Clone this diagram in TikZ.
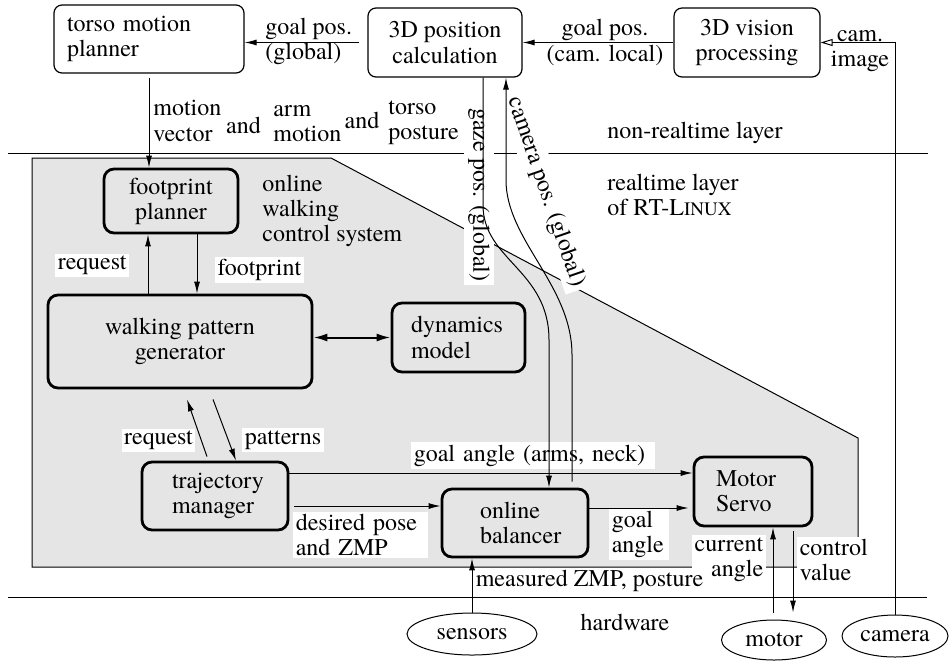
\documentclass[tikz,border=0pt]{standalone}
\usepackage{fontspec}
\setmainfont{TeX Gyre Termes}
\usetikzlibrary{arrows.meta,shapes.geometric}
\definecolor{panel}{RGB}{229,229,229}
\begin{document}
\begin{tikzpicture}[x=0.5pt,y=-0.5pt,
  every node/.style={font=\fontsize{12}{12.6}\selectfont},
  topbox/.style={draw, line width=0.6pt, rounded corners=4pt, inner sep=0pt, align=center},
  inbox/.style={draw, line width=1.4pt, rounded corners=5pt, inner sep=0pt, align=center},
  ell/.style={draw, ellipse, line width=0.5pt, inner sep=0pt},
  lbl/.style={inner sep=1pt, align=left},
  wl/.style={fill=white, inner sep=1.2pt, align=left},
  arr/.style={-{Latex[length=6pt,width=3pt]}, line width=0.5pt},
  darr/.style={{Latex[length=7pt,width=4pt]}-{Latex[length=7pt,width=4pt]}, line width=1pt},
  oarr/.style={-{Triangle[open,length=6pt,width=3.5pt]}, line width=0.5pt}]
\useasboundingbox (0,0) rectangle (951,660);

% grey realtime panel
\filldraw[fill=panel, line width=0.5pt] (32,158) -- (331,158) -- (858,438) -- (858,567) -- (32,567) -- cycle;
% layer separators
\draw[line width=0.5pt] (8,153) -- (928,153);
\draw[line width=0.5pt] (8,597) -- (927,597);

% plain labels
\node[lbl, anchor=west] (lgg) at (263,41.5) {goal pos.\\(global)};
\node[lbl, align=center] (lgc) at (605,42.5) {goal pos.\\(cam. local)};
\node[lbl, align=center] (lci) at (860,51) {cam.\\image};
\node[lbl, anchor=west] (lmv) at (151,121) {motion\\vector};
\node[lbl] (la1) at (243.5,125) {and};
\node[lbl, anchor=west] (lam) at (271,123.5) {arm\\motion};
\node[lbl] (la2) at (362,120) {and};
\node[lbl, anchor=west] (ltp) at (386,122.5) {torso\\posture};
\node[lbl, anchor=west] (lnr) at (605,132.5) {non-realtime layer};
\node[lbl, anchor=west] (lrt) at (605,195) {realtime layer\\of RT-L{\fontsize{9.5}{10}\selectfont INUX}};
\node[lbl, anchor=west] (low) at (260,211) {online\\walking\\control system};
\node[lbl] (lhw) at (625,622) {hardware};

% white-backed labels
\node[wl, anchor=west] (lrq1) at (55,265.5) {request};
\node[wl] (lfp) at (259.5,270) {footprint};
\node[wl] (lrq2) at (158.5,440.5) {request};
\node[wl] (lpt) at (283,440) {patterns};
\node[wl, anchor=west, text width=119.5pt] (lga) at (411,455.5) {goal angle (arms, neck)};
\node[wl, anchor=west, text width=65pt] (ldp) at (293,535) {desired pose\\and ZMP};
\node[wl, anchor=west, text width=27.5pt] (lgb) at (609,534.5) {goal\\angle};
\node[wl, align=right, anchor=east] (lca) at (766,560) {current\\angle};
\node[wl, anchor=west, text width=31pt] (lcv) at (797,560) {control\\value};
\node[wl, anchor=west] (lmz) at (473,581) {measured ZMP, posture};
\node[wl, inner sep=2pt, rotate=-90] (lgz) at (479,195) {gaze pos. (global)};
\node[wl, inner sep=2pt, rotate=-71] (lcp) at (546,192) {camera pos. (global)};

% top boxes
\node[topbox, text width=82pt, align=left, inner xsep=6.5pt, minimum height=34pt] (tmp) at (149,39) {torso motion\\planner};
\node[topbox, minimum width=77pt, minimum height=34.5pt] (pos) at (445,42.5) {3D position\\calculation};
\node[topbox, minimum width=73pt, minimum height=34.5pt] (vis) at (747,42.5) {3D vision\\processing};

% realtime boxes
\node[inbox, minimum width=67pt, minimum height=32pt] (fp) at (171,201) {footprint\\planner};
\node[inbox, minimum width=132pt, minimum height=46.5pt] (wpg) at (180,341.5) {walking pattern\\generator};
\node[inbox, text width=47.5pt, align=left, inner xsep=9.5pt, minimum height=34.5pt] (dyn) at (458.5,337.5) {dynamics\\model};
\node[inbox, text width=43pt, align=left, inner xsep=15pt, minimum height=34pt] (traj) at (215,496) {trajectory\\manager};
\node[inbox, text width=35pt, align=left, inner xsep=19pt, minimum height=34pt] (bal) at (515,523) {online\\balancer};
\node[inbox, text width=37pt, align=left, inner xsep=11pt, minimum height=34.5pt] (ms) at (753,491.5) {Motor\\Servo};

% hardware
\node[ell, minimum width=65pt, minimum height=21pt] (sen) at (472,634) {sensors};
\node[ell, minimum width=52.5pt, minimum height=20pt] (mot) at (774,640) {motor};
\node[ell, minimum width=53pt, minimum height=21pt] (cam) at (895,636) {camera};

% connectors
\draw[arr, shorten <=4pt] (pos.west) -- (pos.west -| tmp.east);
\draw[arr] (vis.west) -- (pos.east);
\draw[oarr] (cam.north) |- (vis.east);
\draw[arr, shorten <=2pt] (tmp.south) -- (tmp.south |- fp.north);
\coordinate (fpR) at ([xshift=13pt]fp.south);
\coordinate (fpL) at ([xshift=-11.5pt]fp.south);
\draw[arr] (fpR) -- (fpR |- wpg.north);
\draw[arr] (fpL |- wpg.north) -- (fpL);
\draw[darr] (dyn.west -| wpg.east) -- (dyn.west);
\draw[arr] ([xshift=-4pt,yshift=2pt]traj.north) -- ([xshift=3.5pt,yshift=-5pt]wpg.south);
\draw[arr] ([xshift=16.5pt,yshift=-5pt]wpg.south) -- ([xshift=10.5pt]traj.north);
\coordinate (gaS) at ([yshift=11.5pt]traj.east);
\draw[arr] (gaS) -- (gaS -| ms.west);
\coordinate (dpS) at ([xshift=2.5pt,yshift=-5pt]traj.east);
\draw[arr] (dpS) -- (dpS -| bal.west);
\coordinate (gbS) at ([yshift=7.5pt]bal.east);
\draw[arr, shorten >=2pt] (gbS) -- (gbS -| ms.west);
\draw[arr] (sen.north) -- (sen.north |- bal.south);
\coordinate (cvS) at ([xshift=20pt,yshift=-2pt]ms.south);
\draw[arr, shorten >=3.5pt] (cvS) -- (cvS |- mot.north);
\coordinate (caS) at ([xshift=-0.5pt,yshift=3.5pt]mot.north);
\draw[arr] (caS) -- (caS |- ms.south);
% gaze / camera position curves
\coordinate (g1) at (483,205);
\coordinate (g2) at (549,340);
\draw[arr] ([xshift=19pt]pos.south) -- (g1) .. controls (483,260) and (549,270) .. (g2) -- ([xshift=17pt]bal.north);
\coordinate (c1) at (572,355);
\coordinate (c2) at (506,180);
\draw[arr, shorten <=3pt] ([xshift=28.5pt]bal.north) -- (c1) .. controls (572,285) and (506,240) .. (c2) -- ([xshift=30.5pt]pos.south);
\end{tikzpicture}
\end{document}
